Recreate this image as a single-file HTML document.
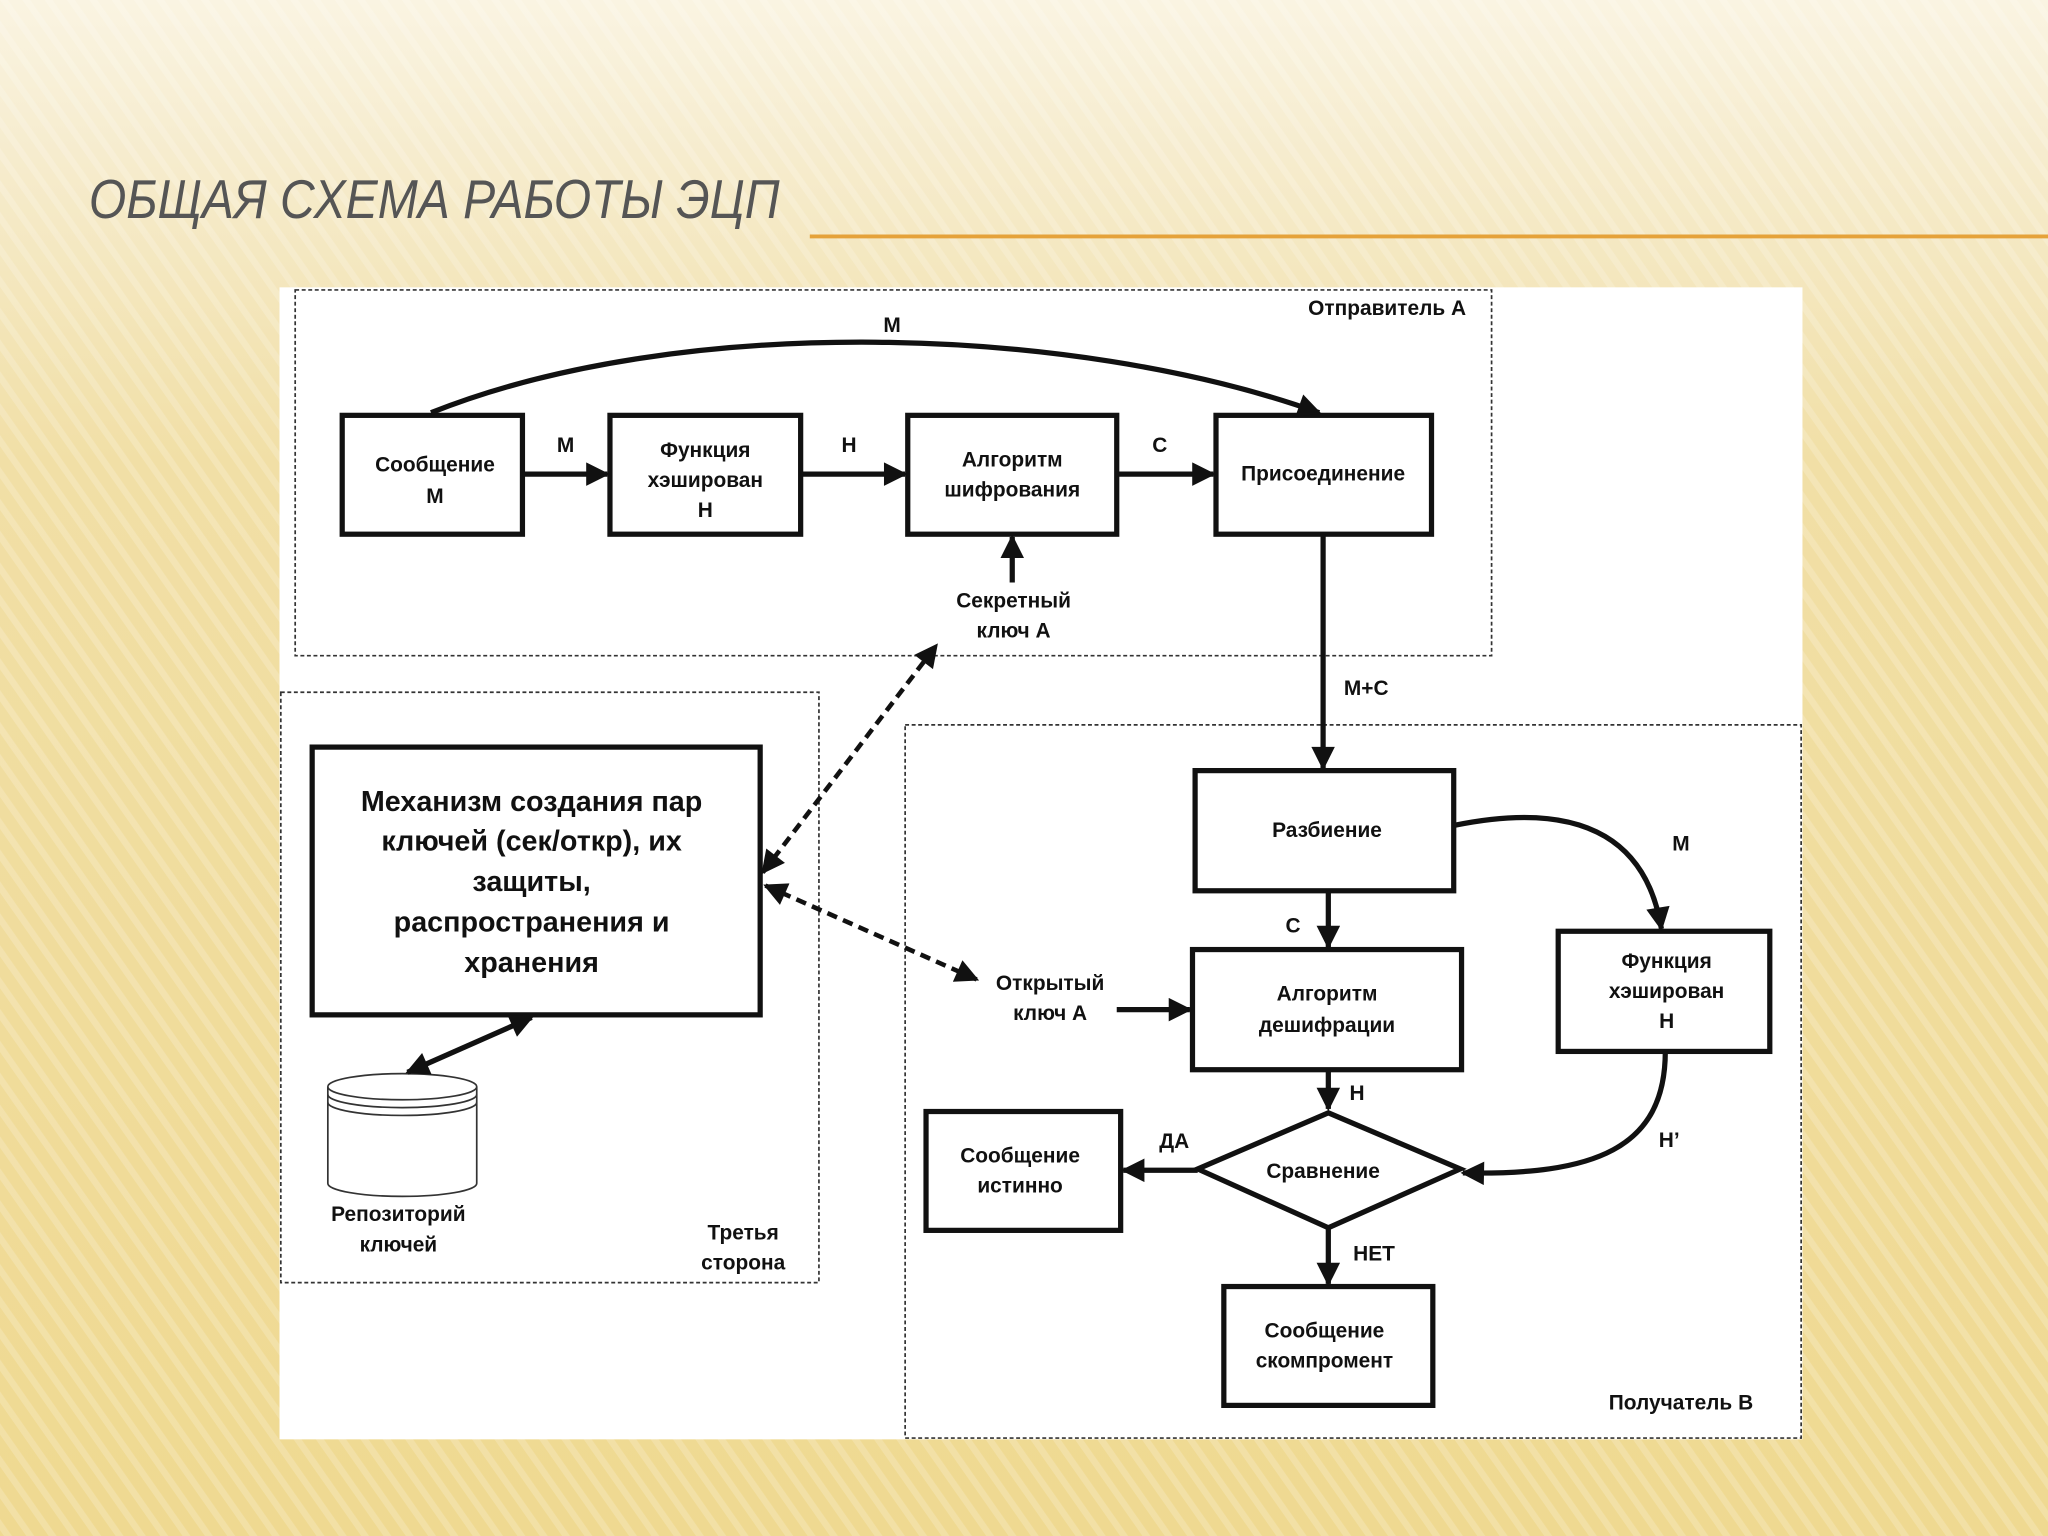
<!DOCTYPE html>
<html><head><meta charset="utf-8"><style>
html,body{margin:0;padding:0;width:2048px;height:1536px;overflow:hidden}
svg{display:block}
text{font-family:"Liberation Sans Narrow","Liberation Sans","DejaVu Sans",sans-serif;font-weight:bold;fill:#111}
</style></head><body>
<svg width="2048" height="1536" viewBox="0 0 1568 1176" preserveAspectRatio="none" xmlns="http://www.w3.org/2000/svg">
<defs>
<linearGradient id="bg" x1="0" y1="0" x2="0" y2="1">
<stop offset="0" stop-color="#faf4e2"/><stop offset="0.1" stop-color="#f6ecce"/><stop offset="0.3" stop-color="#f1dfa6"/><stop offset="1" stop-color="#efd991"/>
</linearGradient>
<pattern id="st" width="14" height="14" patternUnits="userSpaceOnUse" patternTransform="rotate(-35)">
<rect width="14" height="14" fill="none"/><rect width="5" height="14" fill="#ffffff" opacity="0.18"/>
</pattern>
<marker id="b" viewBox="0 0 10 10" refX="9" refY="5" markerWidth="22" markerHeight="18" orient="auto-start-reverse" markerUnits="userSpaceOnUse">
<path d="M0,0 L10,5 L0,10 z" fill="#111"/></marker>
</defs>
<rect width="1568" height="1176" fill="url(#bg)"/>
<rect width="1568" height="1176" fill="url(#st)"/>
<text transform="translate(68,167) scale(0.92,1.05)" x="0" y="0" style="font-style:italic;font-weight:normal;fill:#555;font-size:40px">ОБЩАЯ СХЕМА РАБОТЫ ЭЦП</text>
<line x1="620" y1="181" x2="1568" y2="181" stroke="#e5a23a" stroke-width="3"/>
<rect x="214" y="220" width="1166" height="882" fill="#fff"/>
<g fill="none" stroke="#333" stroke-width="1.3" stroke-dasharray="3,2">
<rect x="226" y="222" width="916" height="280"/>
<rect x="215" y="530" width="412" height="452"/>
<rect x="693" y="555" width="686" height="546"/>
</g>
<g fill="none" stroke="#111" stroke-width="4">
<rect x="262" y="318" width="138" height="91"/>
<rect x="467" y="318" width="146" height="91"/>
<rect x="695" y="318" width="160" height="91"/>
<rect x="931" y="318" width="165" height="91"/>
<rect x="239" y="572" width="343" height="205"/>
<rect x="915" y="590" width="198" height="92"/>
<rect x="913" y="727" width="206" height="92"/>
<rect x="1193" y="713" width="162" height="92"/>
<rect x="709" y="851" width="149" height="91"/>
<rect x="937" y="985" width="160" height="91"/>
<path d="M1017,852 L1118,895 L1017,940 L917,895 Z"/>
</g>
<g fill="#fff" stroke="#333" stroke-width="1.3">
<path d="M251,832 L251,906 A57,10 0 0 0 365,906 L365,832"/>
<ellipse cx="308" cy="832" rx="57" ry="10"/>
<path d="M251,838 A57,10 0 0 0 365,838 M251,844 A57,10 0 0 0 365,844" fill="none"/>
</g>
<g fill="none" stroke="#111" stroke-width="4" marker-end="url(#b)">
<path d="M330,316 C520,240 820,248 1010,316"/>
<line x1="400" y1="363" x2="465" y2="363"/>
<line x1="613" y1="363" x2="693" y2="363"/>
<line x1="855" y1="363" x2="929" y2="363"/>
<line x1="775" y1="446" x2="775" y2="411"/>
<line x1="1013" y1="409" x2="1013" y2="588"/>
<path d="M1113,632 C1220,610 1262,650 1272,711"/>
<line x1="1017" y1="682" x2="1017" y2="725"/>
<line x1="855" y1="773" x2="911" y2="773"/>
<line x1="1017" y1="819" x2="1017" y2="849"/>
<path d="M1275,805 C1275,880 1220,900 1120,898"/>
<line x1="917" y1="896" x2="860" y2="896"/>
<line x1="1017" y1="940" x2="1017" y2="983"/>
</g>
<g fill="none" stroke="#111" stroke-width="3.5" stroke-dasharray="8,5" marker-end="url(#b)" marker-start="url(#b)">
<line x1="584" y1="668" x2="717" y2="494"/>
<line x1="586" y1="678" x2="748" y2="750"/>
</g>
<line x1="312" y1="821" x2="407" y2="779" stroke="#111" stroke-width="4" marker-end="url(#b)" marker-start="url(#b)"/>
<g font-size="16" text-anchor="middle">
<text x="683" y="254">M</text>
<text x="433" y="346">M</text>
<text x="650" y="346">H</text>
<text x="888" y="346">C</text>
<text x="333" y="361">Сообщение</text><text x="333" y="385">M</text>
<text x="540" y="350">Функция</text><text x="540" y="373">хэширован</text><text x="540" y="396">H</text>
<text x="775" y="357">Алгоритм</text><text x="775" y="380">шифрования</text>
<text x="1013" y="368">Присоединение</text>
<text x="776" y="465">Секретный</text><text x="776" y="488">ключ А</text>
<text x="1062" y="241">Отправитель А</text>
<text x="1046" y="532">M+C</text>
<text x="1016" y="641">Разбиение</text>
<text x="1287" y="651">M</text>
<text x="990" y="714">C</text>
<text x="1016" y="766">Алгоритм</text><text x="1016" y="790">дешифрации</text>
<text x="1276" y="741">Функция</text><text x="1276" y="764">хэширован</text><text x="1276" y="787">H</text>
<text x="804" y="758">Открытый</text><text x="804" y="781">ключ А</text>
<text x="1039" y="842">H</text>
<text x="899" y="879">ДА</text>
<text x="1013" y="902">Сравнение</text>
<text x="1278" y="878">H’</text>
<text x="781" y="890">Сообщение</text><text x="781" y="913">истинно</text>
<text x="1052" y="965">НЕТ</text>
<text x="1014" y="1024">Сообщение</text><text x="1014" y="1047">скомпромент</text>
<text x="1287" y="1079">Получатель В</text>
<text x="305" y="935">Репозиторий</text><text x="305" y="958">ключей</text>
<text x="569" y="949">Третья</text><text x="569" y="972">сторона</text>
</g>
<g font-size="22" text-anchor="middle">
<text x="407" y="621">Механизм создания пар</text>
<text x="407" y="651">ключей (сек/откр), их</text>
<text x="407" y="682">защиты,</text>
<text x="407" y="713">распространения и</text>
<text x="407" y="744">хранения</text>
</g>
</svg>
</body></html>
